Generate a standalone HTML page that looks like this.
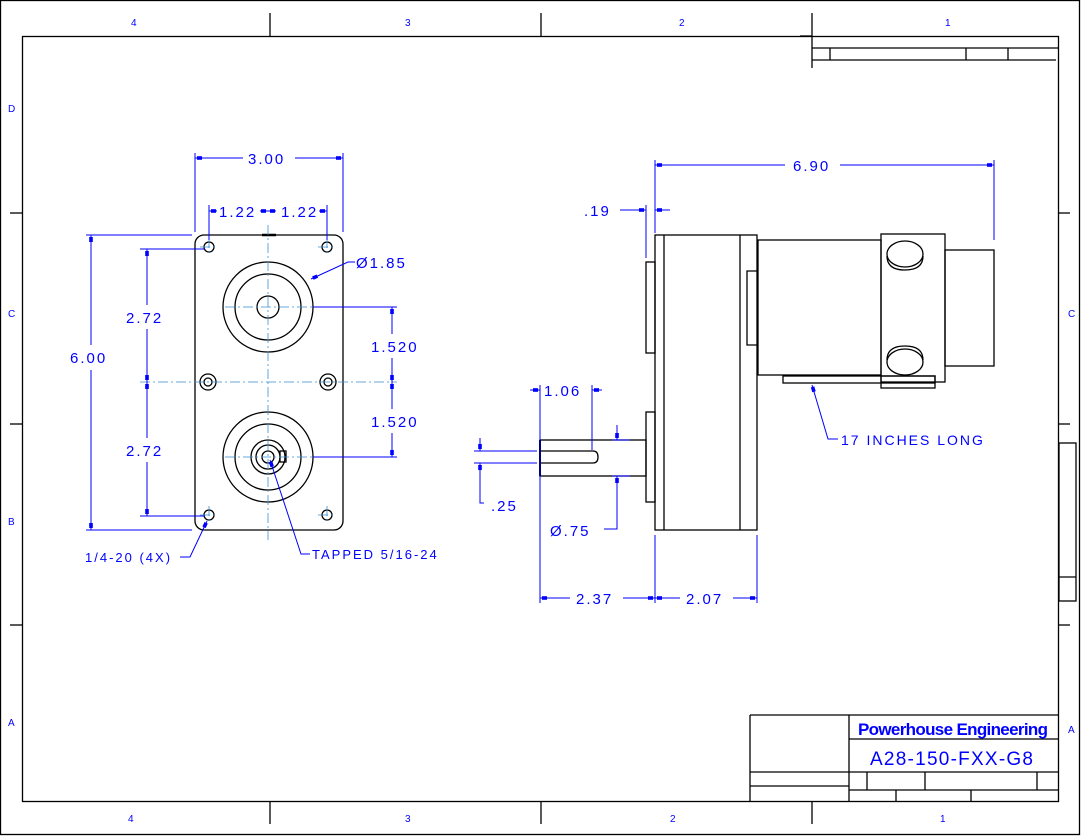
<!DOCTYPE html>
<html><head><meta charset="utf-8"><style>
html,body{margin:0;padding:0;background:#fff;}
svg{display:block;}
.k{stroke:#000;stroke-width:1.3;fill:none;}
.b{stroke:#0000ff;stroke-width:1;fill:none;}
.c{stroke:#3a8fd0;stroke-width:0.8;fill:none;stroke-dasharray:10 3 2 3;}
text{font-family:"Liberation Sans",sans-serif;fill:#0000ff;}
.t{font-size:15px;letter-spacing:2px;}
.z{font-size:10px;}
</style></head><body>
<svg width="1081" height="836" viewBox="0 0 1081 836" xmlns="http://www.w3.org/2000/svg">
<defs>
<marker id="a" markerUnits="userSpaceOnUse" markerWidth="10" markerHeight="8" viewBox="-9 -4 10 8" refX="0" refY="0" orient="auto-start-reverse">
<path d="M-7,-1.8h5v3.6h-5z" fill="#0000ff"/>
</marker>
</defs>
<rect x="0.5" y="0.5" width="1079" height="834" class="k" stroke-width="1.2"/>
<rect x="22.5" y="36.5" width="1036" height="765" class="k" stroke-width="1.2"/>
<g class="k" stroke-width="1.2">
<line x1="270" y1="13" x2="270" y2="36"/><line x1="541" y1="13" x2="541" y2="36"/><line x1="812" y1="13" x2="812" y2="68"/>
<line x1="270" y1="801" x2="270" y2="824"/><line x1="541" y1="801" x2="541" y2="824"/><line x1="812" y1="801" x2="812" y2="824"/>
<line x1="10" y1="213" x2="22" y2="213"/><line x1="10" y1="424" x2="22" y2="424"/><line x1="10" y1="625" x2="22" y2="625"/>
<line x1="1058" y1="424" x2="1070" y2="424"/><line x1="1058" y1="213" x2="1070" y2="213"/><line x1="1058" y1="625" x2="1070" y2="625"/>
<line x1="800" y1="36" x2="812" y2="36"/>
<line x1="812" y1="48" x2="1058" y2="48"/><line x1="812" y1="60" x2="1056" y2="60"/>
<line x1="830" y1="48" x2="830" y2="60"/><line x1="966" y1="48" x2="966" y2="60"/><line x1="1008" y1="48" x2="1008" y2="60"/>
<rect x="1059" y="443" width="17" height="158"/><line x1="1059" y1="577" x2="1076" y2="577"/>
<line x1="750" y1="715" x2="1058" y2="715"/><line x1="750" y1="715" x2="750" y2="801"/>
<line x1="849" y1="715" x2="849" y2="801"/><line x1="849" y1="739" x2="1058" y2="739"/>
<line x1="750" y1="772" x2="1058" y2="772"/><line x1="750" y1="786" x2="849" y2="786"/><line x1="849" y1="790" x2="1058" y2="790"/>
<line x1="867" y1="772" x2="867" y2="790"/><line x1="925" y1="772" x2="925" y2="790"/><line x1="1037" y1="772" x2="1037" y2="790"/>
<line x1="896" y1="790" x2="896" y2="801"/><line x1="971" y1="790" x2="971" y2="801"/>
</g>
<g class="z">
<text x="131" y="26">4</text><text x="405" y="26">3</text><text x="679" y="26">2</text><text x="945" y="26">1</text>
<text x="128" y="822">4</text><text x="405" y="822">3</text><text x="670" y="822">2</text><text x="940" y="822">1</text>
<text x="8" y="112">D</text><text x="8" y="317">C</text><text x="8" y="525">B</text><text x="8" y="726">A</text>
<text x="1068" y="317">C</text><text x="1068" y="733">A</text>
</g>
<text x="858" y="735" style="font-size:17px;font-weight:bold;" textLength="190">Powerhouse Engineering</text>
<text x="870" y="765" style="font-size:19px;" textLength="163" lengthAdjust="spacing">A28-150-FXX-G8</text>

<g class="k">
<rect x="195" y="235" width="148" height="295" rx="9"/>
<line x1="262" y1="235" x2="276" y2="235" stroke-width="2.5"/>
<circle cx="268" cy="307" r="45"/><circle cx="268" cy="307" r="33"/><circle cx="268" cy="307" r="11"/>
<circle cx="268" cy="457" r="45"/><circle cx="268" cy="457" r="33"/><circle cx="268" cy="457" r="17"/><circle cx="268" cy="457" r="12"/><circle cx="268" cy="457" r="6"/>
<rect x="280" y="451" width="6" height="11"/>
<circle cx="209" cy="247" r="5"/><circle cx="327" cy="247" r="5"/><circle cx="209" cy="515" r="5"/><circle cx="327" cy="515" r="5"/>
<circle cx="208" cy="382" r="8"/><circle cx="208" cy="382" r="4"/><circle cx="328" cy="382" r="8"/><circle cx="328" cy="382" r="4"/>
</g>
<g class="c">
<line x1="268" y1="225" x2="268" y2="540"/><line x1="140" y1="382" x2="397" y2="382"/>
<line x1="225" y1="307" x2="312" y2="307"/><line x1="225" y1="457" x2="312" y2="457"/>
<line x1="200" y1="247" x2="218" y2="247"/><line x1="209" y1="238" x2="209" y2="256"/>
<line x1="318" y1="247" x2="336" y2="247"/><line x1="327" y1="238" x2="327" y2="256"/>
<line x1="200" y1="515" x2="218" y2="515"/><line x1="209" y1="506" x2="209" y2="524"/>
<line x1="318" y1="515" x2="336" y2="515"/><line x1="327" y1="506" x2="327" y2="524"/>
</g>
<g class="b">
<line x1="195" y1="153" x2="195" y2="232"/><line x1="343" y1="153" x2="343" y2="232"/>
<line x1="195" y1="158" x2="243" y2="158" marker-start="url(#a)"/><line x1="295" y1="158" x2="343" y2="158" marker-end="url(#a)"/>
<line x1="209" y1="205" x2="209" y2="240"/><line x1="327" y1="205" x2="327" y2="240"/>
<line x1="209" y1="211" x2="217" y2="211" marker-start="url(#a)"/>
<line x1="260" y1="211" x2="268" y2="211" marker-end="url(#a)"/><line x1="276" y1="211" x2="268" y2="211" marker-end="url(#a)"/>
<line x1="319" y1="211" x2="327" y2="211" marker-end="url(#a)"/>
<line x1="86" y1="235" x2="192" y2="235"/><line x1="86" y1="530" x2="192" y2="530"/>
<line x1="91" y1="235" x2="91" y2="345" marker-start="url(#a)"/><line x1="91" y1="370" x2="91" y2="530" marker-end="url(#a)"/>
<line x1="140" y1="249" x2="205" y2="249"/><line x1="140" y1="516" x2="205" y2="516"/>
<line x1="147" y1="249" x2="147" y2="305" marker-start="url(#a)"/><line x1="147" y1="329" x2="147" y2="382" marker-end="url(#a)"/>
<line x1="147" y1="382" x2="147" y2="438" marker-start="url(#a)"/><line x1="147" y1="462" x2="147" y2="516" marker-end="url(#a)"/>
<line x1="313" y1="307" x2="397" y2="307"/><line x1="313" y1="457" x2="397" y2="457"/>
<line x1="392" y1="307" x2="392" y2="334" marker-start="url(#a)"/><line x1="392" y1="358" x2="392" y2="382" marker-end="url(#a)"/>
<line x1="392" y1="382" x2="392" y2="409" marker-start="url(#a)"/><line x1="392" y1="433" x2="392" y2="457" marker-end="url(#a)"/>
<polyline points="355,262 348,262 311,279" marker-end="url(#a)"/>
<polyline points="180,557 190,557 207,521" marker-end="url(#a)"/>
<polyline points="310,554 301,554 270,460" marker-end="url(#a)"/>
</g>
<g class="t">
<text x="248" y="164">3.00</text>
<text x="219" y="217">1.22</text><text x="281" y="217">1.22</text>
<text x="70" y="363">6.00</text>
<text x="126" y="323">2.72</text><text x="126" y="456">2.72</text>
<text x="371" y="352">1.520</text><text x="371" y="427">1.520</text>
<text x="356" y="268">&#216;1.85</text>
<text x="85" y="562" style="font-size:13px">1/4-20 (4X)</text>
<text x="312" y="559" style="font-size:13px">TAPPED 5/16-24</text>
</g>

<g class="k">
<rect x="655" y="235" width="102" height="295"/>
<line x1="664" y1="235" x2="664" y2="530"/><line x1="740" y1="235" x2="740" y2="530"/>
<rect x="646" y="262" width="9" height="91"/><rect x="646" y="412" width="9" height="90"/>
<polyline points="757,271 747,271 747,345 757,345"/>
<rect x="758" y="240" width="123" height="135"/>
<rect x="881" y="234" width="64" height="148"/>
<rect x="945" y="250" width="49" height="116"/>
<ellipse cx="905" cy="254" rx="18" ry="13"/><path d="M887,256 q0,14 18,14 q18,0 18,-14"/>
<ellipse cx="905" cy="362" rx="18" ry="13"/><path d="M887,360 q0,-14 18,-14 q18,0 18,14"/>
<rect x="783" y="376" width="152" height="7"/><rect x="881" y="376" width="54" height="12"/>
<rect x="540" y="440" width="106" height="36"/>
<line x1="540" y1="451" x2="593" y2="451"/><line x1="540" y1="463" x2="593" y2="463"/>
<path d="M593,451 q5,0 5,6 q0,6 -5,6"/>
<line x1="540" y1="440" x2="540" y2="476" stroke-width="2"/>
</g>
<g class="b">
<line x1="646" y1="205" x2="646" y2="258"/><line x1="655" y1="160" x2="655" y2="233"/><line x1="994" y1="160" x2="994" y2="240"/>
<line x1="620" y1="210" x2="646" y2="210" marker-end="url(#a)"/><line x1="670" y1="210" x2="655" y2="210" marker-end="url(#a)"/>
<line x1="655" y1="165" x2="785" y2="165" marker-start="url(#a)"/><line x1="840" y1="165" x2="994" y2="165" marker-end="url(#a)"/>
<line x1="540" y1="385" x2="540" y2="603"/><line x1="592" y1="385" x2="592" y2="450"/>
<line x1="530" y1="390" x2="540" y2="390" marker-end="url(#a)"/><line x1="602" y1="390" x2="592" y2="390" marker-end="url(#a)"/>
<line x1="474" y1="451" x2="537" y2="451"/><line x1="474" y1="463" x2="537" y2="463"/>
<line x1="480" y1="438" x2="480" y2="451" marker-end="url(#a)"/><polyline points="480,463 480,503 484,503" marker-start="url(#a)"/>
<line x1="612" y1="440" x2="630" y2="440"/><line x1="612" y1="476" x2="630" y2="476"/>
<line x1="617" y1="425" x2="617" y2="440" marker-end="url(#a)"/><polyline points="604,529 617,529 617,476" marker-end="url(#a)"/>
<line x1="655" y1="535" x2="655" y2="603"/><line x1="757" y1="535" x2="757" y2="603"/>
<line x1="540" y1="598" x2="570" y2="598" marker-start="url(#a)"/><line x1="623" y1="598" x2="655" y2="598" marker-end="url(#a)"/>
<line x1="655" y1="598" x2="680" y2="598" marker-start="url(#a)"/><line x1="733" y1="598" x2="757" y2="598" marker-end="url(#a)"/>
<polyline points="838,439 828,439 812,385" marker-end="url(#a)"/>
</g>
<g class="t">
<text x="584" y="216">.19</text>
<text x="793" y="171">6.90</text>
<text x="544" y="396">1.06</text>
<text x="491" y="511">.25</text>
<text x="550" y="536">&#216;.75</text>
<text x="576" y="604">2.37</text><text x="686" y="604">2.07</text>
<text x="841" y="445" style="font-size:14px">17 INCHES LONG</text>
</g>
</svg>
</body></html>
